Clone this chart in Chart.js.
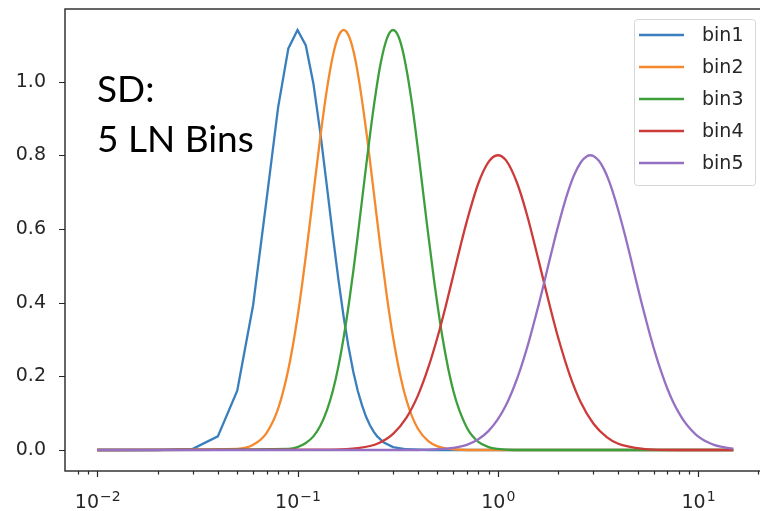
<!DOCTYPE html>
<html>
<head>
<meta charset="utf-8">
<script src="https://cdn.jsdelivr.net/npm/chart.js@4"></script>
<style>
  html, body { margin: 0; padding: 0; background: #fff; overflow: hidden; }
  #wrap { width: 775px; height: 511px; position: relative; }
</style>
</head>
<body>
<div id="wrap"><canvas id="lnChart"></canvas></div>
<script>
let labels = ['bin1', 'bin2', 'bin3', 'bin4', 'bin5'];
let colors = ['#3a7fbd', '#f5892d', '#3c9f3c', '#cc3a3a', '#9670c2'];

let bin1X = [0.01, 0.02, 0.03, 0.04, 0.05, 0.06, 0.07, 0.08, 0.09, 0.10, 0.11, 0.12, 0.13, 0.14, 0.15, 0.16, 0.17, 0.18, 0.19, 0.20, 0.21, 0.22, 0.23, 0.24, 0.25, 0.27, 0.30, 0.35, 0.45, 15];
let bin1Y = [0, 0, 0.003, 0.037, 0.161, 0.393, 0.678, 0.930, 1.090, 1.140, 1.098, 0.995, 0.861, 0.718, 0.583, 0.463, 0.361, 0.278, 0.212, 0.160, 0.121, 0.090, 0.067, 0.050, 0.037, 0.020, 0.008, 0.002, 0, 0];

let bin2X = [0.01, 0.05, 0.06, 0.07, 0.08, 0.09, 0.10, 0.11, 0.12, 0.13, 0.14, 0.15, 0.16, 0.17, 0.18, 0.19, 0.20, 0.22, 0.24, 0.26, 0.28, 0.30, 0.33, 0.36, 0.40, 0.45, 0.50, 0.60, 0.75, 15];
let bin2Y = [0, 0.003, 0.014, 0.046, 0.112, 0.219, 0.361, 0.526, 0.695, 0.850, 0.977, 1.069, 1.123, 1.140, 1.125, 1.084, 1.023, 0.869, 0.702, 0.546, 0.413, 0.306, 0.189, 0.114, 0.057, 0.024, 0.010, 0.002, 0, 0];

let bin3X = [0.01, 0.09, 0.10, 0.11, 0.12, 0.13, 0.14, 0.15, 0.16, 0.17, 0.18, 0.19, 0.20, 0.22, 0.24, 0.26, 0.28, 0.30, 0.32, 0.34, 0.37, 0.40, 0.44, 0.48, 0.53, 0.60, 0.70, 0.80, 0.90, 1.0, 1.2, 15];
let bin3Y = [0, 0.003, 0.008, 0.019, 0.037, 0.066, 0.107, 0.160, 0.227, 0.306, 0.393, 0.486, 0.583, 0.770, 0.930, 1.049, 1.118, 1.140, 1.121, 1.069, 0.953, 0.813, 0.626, 0.463, 0.304, 0.160, 0.061, 0.022, 0.008, 0.003, 0, 0];

let bin4X = [0.01, 0.15, 0.20, 0.25, 0.30, 0.35, 0.40, 0.45, 0.50, 0.55, 0.60, 0.65, 0.70, 0.80, 0.90, 1.0, 1.1, 1.25, 1.4, 1.6, 1.8, 2.0, 2.3, 2.6, 3.0, 3.5, 4.0, 5.0, 6.0, 8.0, 15];
let bin4Y = [0, 0.001, 0.005, 0.017, 0.044, 0.088, 0.149, 0.224, 0.306, 0.391, 0.475, 0.552, 0.620, 0.724, 0.782, 0.800, 0.786, 0.724, 0.638, 0.514, 0.401, 0.306, 0.200, 0.129, 0.072, 0.035, 0.017, 0.005, 0.001, 0, 0];

let bin5X = [0.01, 0.4, 0.5, 0.6, 0.7, 0.8, 0.9, 1.0, 1.1, 1.2, 1.3, 1.4, 1.5, 1.6, 1.7, 1.8, 1.9, 2.0, 2.2, 2.4, 2.6, 2.8, 2.9, 3.0, 3.2, 3.4, 3.6, 3.8, 4.0, 4.3, 4.6, 4.9, 5.2, 5.5, 5.8, 6.2, 6.6, 7.0, 7.5, 8.0, 8.5, 9.0, 10, 11, 12, 13, 14, 15];
let bin5Y = [0, 0, 0.002, 0.006, 0.014, 0.029, 0.052, 0.083, 0.122, 0.169, 0.221, 0.277, 0.336, 0.394, 0.452, 0.508, 0.560, 0.607, 0.687, 0.745, 0.781, 0.798, 0.800, 0.798, 0.785, 0.761, 0.729, 0.691, 0.650, 0.587, 0.523, 0.461, 0.404, 0.353, 0.306, 0.252, 0.207, 0.169, 0.131, 0.102, 0.079, 0.062, 0.037, 0.023, 0.014, 0.009, 0.006, 0.004];

let xMajor = [0.01, 0.1, 1, 10];
let xMajorExp = ['\u22122', '\u22121', '0', '1'];
let xMinor = [0.008, 0.009, 0.02, 0.03, 0.04, 0.05, 0.06, 0.07, 0.08, 0.09, 0.2, 0.3, 0.4, 0.5, 0.6, 0.7, 0.8, 0.9, 2, 3, 4, 5, 6, 7, 8, 9, 20];
let yTicks = [0, 0.2, 0.4, 0.6, 0.8, 1.0];

let noteLines = ['SD:', '5 LN Bins'];

let xs = [bin1X, bin2X, bin3X, bin4X, bin5X];
let ys = [bin1Y, bin2Y, bin3Y, bin4Y, bin5Y];

let datasets = labels.map((name, i) => ({
    label: name,
    data: xs[i].map((x, k) => ({ x: x, y: ys[i][k] })),
    borderColor: colors[i],
    borderWidth: 2.3,
    pointRadius: 0,
    // later bins sit on top of earlier ones
    order: labels.length - i,
    tension: 0,
    cubicInterpolationMode: i === 0 ? 'default' : 'monotone'
}));

let tickFont = { family: 'DejaVu Sans', size: 19 };
let inkColor = '#262626';

// frame, tick marks, log labels, the note and the legend box
let decor = {
    id: 'decor',
    afterDraw(chart) {
        let ctx = chart.ctx;
        let a = chart.chartArea;
        let xs = chart.scales.x;
        let ys = chart.scales.y;
        ctx.save();
        ctx.strokeStyle = inkColor;
        ctx.lineWidth = 1.4;
        ctx.strokeRect(a.left, a.top, a.right - a.left, a.bottom - a.top);

        ctx.lineWidth = 1.2;
        ctx.beginPath();
        xMajor.forEach(v => {
            let px = Math.round(xs.getPixelForValue(v)) + 0.5;
            ctx.moveTo(px, a.bottom); ctx.lineTo(px, a.bottom + 6);
        });
        xMinor.forEach(v => {
            let px = Math.round(xs.getPixelForValue(v)) + 0.5;
            ctx.moveTo(px, a.bottom); ctx.lineTo(px, a.bottom + 3.5);
        });
        yTicks.forEach(v => {
            let py = Math.round(ys.getPixelForValue(v)) + 0.5;
            ctx.moveTo(a.left, py); ctx.lineTo(a.left - 6, py);
        });
        ctx.stroke();

        // 10^n labels with a raised exponent
        ctx.fillStyle = inkColor;
        ctx.textBaseline = 'alphabetic';
        ctx.textAlign = 'left';
        xMajor.forEach((v, i) => {
            let px = xs.getPixelForValue(v);
            ctx.font = '19px "DejaVu Sans"';
            let w1 = ctx.measureText('10').width;
            ctx.font = '14px "DejaVu Sans"';
            let w2 = ctx.measureText(xMajorExp[i]).width;
            let left = px - (w1 + w2) / 2;
            ctx.font = '19px "DejaVu Sans"';
            ctx.fillText('10', left, 508);
            ctx.font = '14px "DejaVu Sans"';
            ctx.fillText(xMajorExp[i], left + w1 + 1, 501);
        });

        ctx.fillStyle = '#000';
        ctx.font = '37px Lato';
        ctx.fillText(noteLines[0], 97, 102);
        ctx.fillText(noteLines[1], 97, 152);

        // legend
        let bx = 634, by = 19, bw = 121, bh = 166;
        ctx.beginPath();
        ctx.roundRect(bx + 0.5, by + 0.5, bw, bh, 3);
        ctx.fillStyle = 'rgba(255,255,255,0.85)';
        ctx.fill();
        ctx.strokeStyle = '#d6d6d6';
        ctx.lineWidth = 1;
        ctx.stroke();
        ctx.font = '19px "DejaVu Sans"';
        ctx.textBaseline = 'middle';
        labels.forEach((name, i) => {
            let cy = 35 + i * 32;
            ctx.strokeStyle = colors[i];
            ctx.lineWidth = 2.5;
            ctx.beginPath();
            ctx.moveTo(639, cy); ctx.lineTo(684, cy);
            ctx.stroke();
            ctx.fillStyle = inkColor;
            ctx.fillText(name, 702, cy + 1);
        });
        ctx.restore();
    }
};

let ctx = document.getElementById('lnChart').getContext('2d');
let lnChart = new Chart(ctx, {
    type: 'line',
    data: { datasets: datasets },
    options: {
        responsive: true,
        maintainAspectRatio: false,
        animation: false,
        layout: { padding: { top: 9, right: 10, left: 0, bottom: 0 } },
        plugins: { legend: { display: false }, tooltip: { enabled: false } },
        scales: {
            x: {
                type: 'logarithmic',
                min: 0.0069,
                max: 21.6,
                afterBuildTicks: (axis) => { axis.ticks = xMajor.map(v => ({ value: v })); },
                afterFit: (axis) => { axis.height = 40; axis.paddingLeft = 0; axis.paddingRight = 0; },
                grid: { display: false },
                border: { display: false },
                ticks: { display: false }
            },
            y: {
                type: 'linear',
                min: -0.057,
                max: 1.197,
                afterBuildTicks: (axis) => { axis.ticks = yTicks.map(v => ({ value: v })); },
                afterFit: (axis) => { axis.width = 65; axis.paddingTop = 0; axis.paddingBottom = 0; },
                grid: { display: false, drawTicks: true, tickLength: 6 },
                border: { display: false },
                ticks: {
                    padding: 13,
                    color: inkColor,
                    font: tickFont,
                    callback: (v) => v.toFixed(1)
                }
            }
        }
    },
    plugins: [decor]
});
</script>
</body>
</html>
